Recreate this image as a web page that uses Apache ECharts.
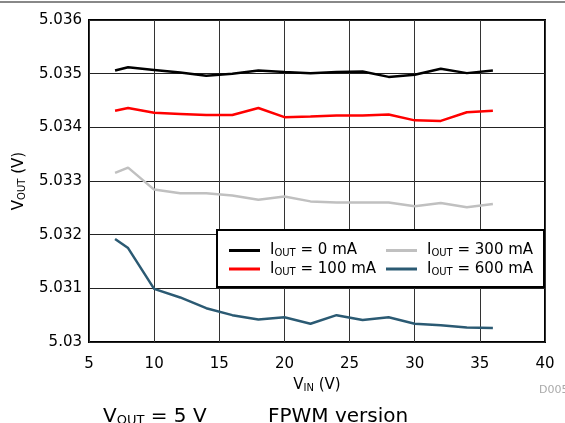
<!DOCTYPE html>
<html><head><meta charset="utf-8">
<script src="https://cdn.jsdelivr.net/npm/echarts@6/dist/echarts.min.js"></script>
<style>html,body{margin:0;padding:0;background:#fff}#c{width:565px;height:423px}</style>
</head><body><div id="c"></div>
<script>
const vin = [7, 8, 10, 12, 14, 16, 18, 20, 22, 24, 26, 28, 30, 32, 34, 36];
const i0 = [5.03506, 5.03512, 5.03507, 5.03502, 5.03496, 5.03500, 5.03506, 5.03503, 5.03501, 5.03503, 5.03504, 5.03494, 5.03498, 5.03509, 5.03501, 5.03506];
const i100 = [5.03431, 5.03436, 5.03427, 5.03425, 5.03423, 5.03423, 5.03436, 5.03419, 5.03420, 5.03422, 5.03422, 5.03424, 5.03413, 5.03412, 5.03428, 5.03431];
const i300 = [5.03315, 5.03325, 5.03284, 5.03277, 5.03277, 5.03273, 5.03265, 5.03271, 5.03262, 5.03260, 5.03260, 5.03260, 5.03253, 5.03259, 5.03251, 5.03257];
const i600 = [5.03192, 5.03175, 5.03099, 5.03083, 5.03063, 5.03050, 5.03042, 5.03046, 5.03034, 5.03050, 5.03041, 5.03046, 5.03034, 5.03031, 5.03027, 5.03026];
const names = ['0 mA', '100 mA', '300 mA', '600 mA'];
const xTicks = [5, 10, 15, 20, 25, 30, 35, 40];
const yTicks = [5.030, 5.031, 5.032, 5.033, 5.034, 5.035, 5.036];

const FONT = 'DejaVu Sans, sans-serif';
const colors = ['#000000', '#ff0000', '#c0c0c0', '#2b5a73'];
const sets = [i0, i100, i300, i600];
const pair = a => vin.map((x, k) => [x, a[k]]);
const subRich = {
  n: {fontSize: 15, fontFamily: FONT, color: '#000'},
  f: {fontSize: 15, fontFamily: FONT, color: '#000', padding: [0, 0, 0, 5]},
  sub: {fontSize: 10, fontFamily: FONT, color: '#000', verticalAlign: 'bottom', padding: [6, 0, 0, 0]}
};
const legendCommon = {
  orient: 'vertical', itemWidth: 31, itemHeight: 3, itemGap: 3, icon: 'rect', padding: 0,
  textStyle: {fontSize: 15, fontFamily: FONT, color: '#000', rich: subRich},
  formatter: n => '{f|I}{sub|OUT}{n| = ' + n + '}', z: 10, selectedMode: false
};
const chart = echarts.init(document.getElementById('c'), null, {renderer: 'canvas'});
chart.setOption({
  animation: false,
  grid: {left: 89, right: 20, top: 20, bottom: 81, show: true, borderColor: '#000', borderWidth: 2, backgroundColor: 'transparent'},
  xAxis: {
    type: 'value', min: xTicks[0], max: xTicks[xTicks.length - 1], interval: 5,
    axisLine: {show: false}, axisTick: {show: false},
    splitLine: {show: true, lineStyle: {color: '#333', width: 1}},
    axisLabel: {fontSize: 15, fontFamily: FONT, color: '#000', margin: 15},
    name: '{n|V}{sub|IN}{n| (V)}', nameLocation: 'middle', nameGap: 35,
    nameTextStyle: {rich: subRich}
  },
  yAxis: {
    type: 'value', min: yTicks[0], max: yTicks[yTicks.length - 1], interval: 0.001,
    axisLine: {show: false}, axisTick: {show: false},
    splitLine: {show: true, lineStyle: {color: '#222', width: 1}},
    axisLabel: {fontSize: 15, fontFamily: FONT, color: '#000', margin: 7,
      formatter: v => String(parseFloat(v.toFixed(3)))},
    name: '{n|V}{sub|OUT}{n| (V)}', nameLocation: 'middle', nameGap: 62,
    nameTextStyle: {rich: subRich}
  },
  legend: [
    Object.assign({left: 229, top: 243, data: [names[0], names[1]]}, legendCommon),
    Object.assign({left: 386, top: 243, data: [names[2], names[3]]}, legendCommon)
  ],
  graphic: [
    {type: 'line', shape: {x1: 0, y1: 2, x2: 565, y2: 2}, style: {stroke: '#888', lineWidth: 2}},
    {type: 'rect', z: 5, shape: {x: 217, y: 230, width: 327, height: 57}, style: {fill: '#fff', stroke: '#000', lineWidth: 2}},
    {type: 'text', left: 539, top: 385, style: {text: 'D005', fill: '#aaa', fontSize: 11, fontFamily: FONT}},
    {type: 'text', left: 103, top: 407, style: {text: '{n|V}{s|OUT}{n| = 5 V}', rich: {
      n: {fontSize: 20, fontFamily: FONT, fill: '#000'},
      s: {fontSize: 13, fontFamily: FONT, fill: '#000', verticalAlign: 'bottom', padding: [8, 0, 0, 0]}}}},
    {type: 'text', left: 268, top: 407, style: {text: 'FPWM version', fontSize: 20, fontFamily: FONT, fill: '#000'}}
  ],
  series: sets.map((a, k) => ({
    name: names[k], type: 'line', data: pair(a), showSymbol: false, symbol: 'none',
    lineStyle: {color: colors[k], width: 2.5}, itemStyle: {color: colors[k]}, z: 2
  }))
});
</script></body></html>
